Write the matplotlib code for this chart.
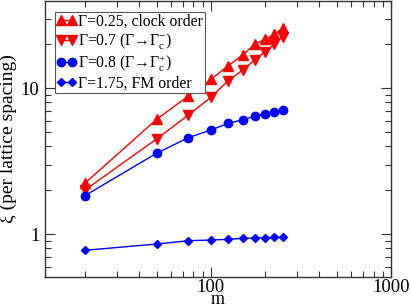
import matplotlib
matplotlib.use("Agg")
import matplotlib.pyplot as plt
from matplotlib.ticker import LogLocator, NullFormatter, FixedLocator, FixedFormatter

plt.rcParams['font.family'] = ['Liberation Serif', 'DejaVu Serif']
plt.rcParams['mathtext.fontset'] = 'custom'
plt.rcParams['mathtext.rm'] = 'Liberation Serif'
plt.rcParams['mathtext.it'] = 'Liberation Serif:italic'

m = [20, 50, 75, 100, 125, 150, 175, 200, 225, 250]
xi_clock = [2.24, 6.13, 8.85, 11.5, 14.3, 16.9, 20.0, 21.7, 23.4, 25.8]
xi_minus = [2.01, 4.50, 6.56, 8.67, 11.3, 13.3, 15.6, 17.8, 20.0, 22.6]
xi_plus = [1.84, 3.59, 4.59, 5.18, 5.75, 6.09, 6.43, 6.70, 6.92, 7.07]
xi_fm = [0.777, 0.858, 0.904, 0.914, 0.924, 0.939, 0.943, 0.948, 0.951, 0.954]

labels = ["Γ=0.25, clock order",
          r"Γ=0.7 (Γ→Γ$_\mathrm{c}^{-}$)",
          r"Γ=0.8 (Γ→Γ$_\mathrm{c}^{+}$)",
          "Γ=1.75, FM order"]

fig = plt.figure(figsize=(4.11, 3.07), dpi=100)
ax = fig.add_axes([45/411, 30/307, 346/411, 276/307])

ax.plot(m, xi_clock, '-', color='red', marker='^', ms=6.5, lw=1, label=labels[0])
ax.plot(m, xi_minus, '-', color='red', marker='v', ms=6.5, lw=1, label=labels[1])
ax.plot(m, xi_plus, '-', color='blue', marker='o', ms=6, lw=1, label=labels[2])
ax.plot(m, xi_fm, '-', color='blue', marker='D', ms=4.5, lw=1, label=labels[3])

ax.set_xscale('log')
ax.set_yscale('log')
ax.set_xlim(12, 1000)
ax.set_ylim(0.51, 39.6)

ax.xaxis.set_major_locator(FixedLocator([100, 1000]))
ax.xaxis.set_major_formatter(FixedFormatter(['100', '1000']))
ax.xaxis.set_minor_locator(LogLocator(base=10, subs=range(2, 10)))
ax.xaxis.set_minor_formatter(NullFormatter())
ax.yaxis.set_major_locator(FixedLocator([1, 10]))
ax.yaxis.set_major_formatter(FixedFormatter(['1', '10']))
ax.yaxis.set_minor_locator(LogLocator(base=10, subs=range(2, 10)))
ax.yaxis.set_minor_formatter(NullFormatter())

ax.tick_params(which='both', direction='in', top=True, right=True, labelsize=13.5, width=0.8, color='#333333')
ax.tick_params(which='major', length=7)
ax.tick_params(which='minor', length=4)
ax.tick_params(axis='x', which='major', pad=1.5)
ax.tick_params(axis='y', which='major', pad=4)
for s in ax.spines.values():
    s.set_linewidth(1.0)
    s.set_color('#333333')

ax.set_xlabel('m', fontsize=13, labelpad=-4)
ax.set_ylabel('ξ (per lattice spacing)', fontsize=14, labelpad=3)

leg = ax.legend(loc='upper left', bbox_to_anchor=(0.028, 0.96), numpoints=2, fontsize=11.3,
                frameon=True, fancybox=False, edgecolor='#555555', framealpha=1,
                borderpad=0.1, labelspacing=0.12, handlelength=1.3, handletextpad=0.1,
                borderaxespad=0.0)
leg.get_frame().set_linewidth(0.8)

fig.savefig('out.png', dpi=100)
